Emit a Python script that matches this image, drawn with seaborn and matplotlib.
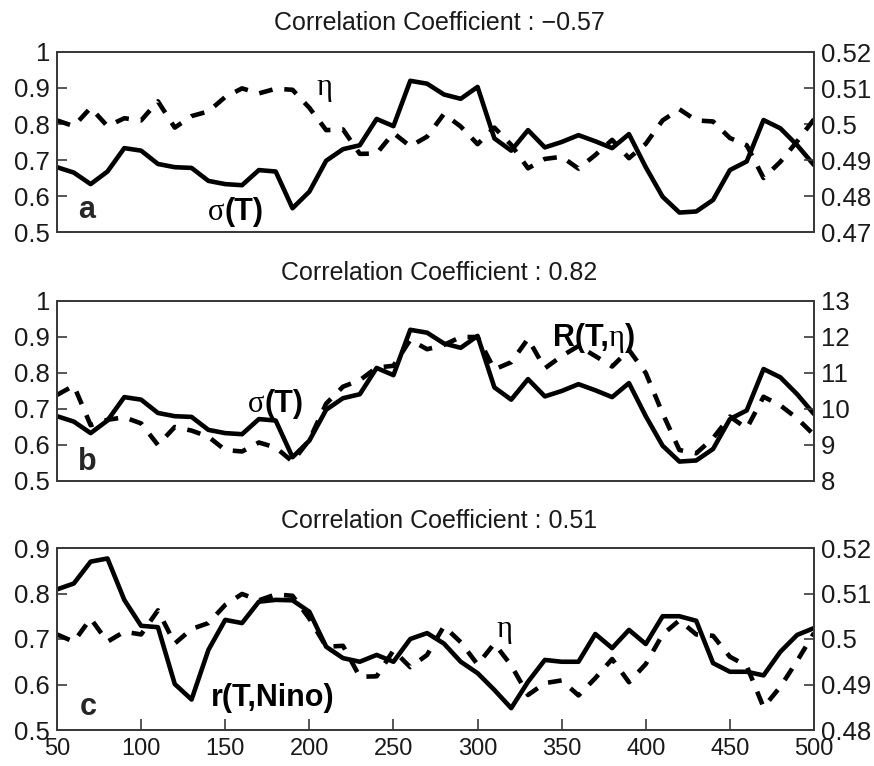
import numpy as np
import pandas as pd
import matplotlib
matplotlib.use("Agg")
import matplotlib.pyplot as plt
import seaborn as sns
from matplotlib.offsetbox import TextArea, HPacker, AnnotationBbox
from matplotlib.ticker import FuncFormatter

# ---------------- data ----------------
years = [50, 60, 70, 80, 90, 100, 110, 120, 130, 140, 150, 160, 170, 180, 190,
         200, 210, 220, 230, 240, 250, 260, 270, 280, 290, 300, 310, 320, 330,
         340, 350, 360, 370, 380, 390, 400, 410, 420, 430, 440, 450, 460, 470,
         480, 490, 500]

sigma_T = [0.680, 0.665, 0.633, 0.668, 0.733, 0.726, 0.689, 0.680, 0.678, 0.642,
           0.633, 0.630, 0.672, 0.668, 0.566, 0.612, 0.698, 0.730, 0.741, 0.814,
           0.794, 0.920, 0.912, 0.882, 0.870, 0.903, 0.760, 0.726, 0.783, 0.735,
           0.750, 0.769, 0.752, 0.733, 0.772, 0.680, 0.598, 0.554, 0.557, 0.589,
           0.672, 0.696, 0.811, 0.788, 0.741, 0.686]

eta = [0.5010, 0.4994, 0.5045, 0.4994, 0.5016, 0.5010, 0.5063, 0.4990, 0.5022, 0.5035,
       0.5075, 0.5099, 0.5085, 0.5098, 0.5095, 0.5045, 0.4983, 0.4985, 0.4917, 0.4918,
       0.4975, 0.4938, 0.4965, 0.5028, 0.4993, 0.4944, 0.4990, 0.4942, 0.4877, 0.4903,
       0.4909, 0.4876, 0.4914, 0.4956, 0.4905, 0.4945, 0.5010, 0.5041, 0.5010, 0.5007,
       0.4961, 0.4941, 0.4850, 0.4895, 0.4952, 0.5013]

R_T_eta = [10.39, 10.65, 9.55, 9.70, 9.77, 9.60, 9.00, 9.50, 9.40, 9.23,
           8.86, 8.82, 9.07, 8.93, 8.54, 9.14, 10.15, 10.62, 10.80, 11.15,
           11.20, 11.92, 11.66, 11.78, 12.00, 12.00, 11.10, 11.30, 11.95, 11.13,
           11.47, 11.75, 11.47, 11.18, 11.64, 11.00, 9.88, 8.86, 8.77, 9.19,
           9.79, 9.46, 10.34, 10.10, 9.74, 9.28]

r_T_nino = [0.809, 0.822, 0.870, 0.877, 0.786, 0.729, 0.726, 0.601, 0.567, 0.676,
            0.742, 0.735, 0.782, 0.786, 0.785, 0.760, 0.683, 0.658, 0.650, 0.665,
            0.650, 0.700, 0.713, 0.690, 0.650, 0.625, 0.588, 0.548, 0.606, 0.654,
            0.650, 0.650, 0.711, 0.680, 0.720, 0.689, 0.750, 0.750, 0.740, 0.647,
            0.628, 0.628, 0.620, 0.672, 0.709, 0.724]

titles = ["Correlation Coefficient : \u22120.57",
          "Correlation Coefficient : 0.82",
          "Correlation Coefficient : 0.51"]
panel_letters = ["a", "b", "c"]

x_ticks = [50, 100, 150, 200, 250, 300, 350, 400, 450, 500]
left_ticks_ab = [0.5, 0.6, 0.7, 0.8, 0.9, 1.0]
left_ticks_c = [0.5, 0.6, 0.7, 0.8, 0.9]
right_ticks_a = [0.47, 0.48, 0.49, 0.50, 0.51, 0.52]
right_ticks_b = [8, 9, 10, 11, 12, 13]
right_ticks_c = [0.48, 0.49, 0.50, 0.51, 0.52]

df = pd.DataFrame({"year": years, "sigma": sigma_T, "eta": eta,
                   "R": R_T_eta, "r": r_T_nino})

# ---------------- style ----------------
sns.set_style("white")
plt.rcParams["font.family"] = ["Liberation Sans", "DejaVu Sans"]

W, H = 874, 766
fig = plt.figure(figsize=(W / 100, H / 100), dpi=100)

def fx(px):
    return px / W

def fy(py):
    return 1 - py / H

left_px, right_px = 57, 814
panels_px = [(52, 232), (301, 481), (548, 730)]

LW = 3.3
DASH = (3.0, 2.6)
EDGE = "#3a3a3a"
TICK_FS = 18.5
XTICK_FS = 17
LABEL_FS = 22

fmt = FuncFormatter(lambda v, p: ("%g" % round(v, 4)))

axes = []
for (top, bot) in panels_px:
    ax = fig.add_axes([fx(left_px), fy(bot), fx(right_px - left_px), (bot - top) / H])
    axes.append(ax)

def style_axes(ax, ax2, lticks, rticks, show_x):
    for a in (ax, ax2):
        for s in a.spines.values():
            s.set_color(EDGE)
            s.set_linewidth(1.3)
    ax.set_xlim(50, 500)
    ax.set_yticks(lticks)
    ax.set_ylim(lticks[0], lticks[-1])
    ax2.set_yticks(rticks)
    ax2.set_ylim(rticks[0], rticks[-1])
    ax.yaxis.set_major_formatter(fmt)
    ax2.yaxis.set_major_formatter(fmt)
    ax.tick_params(axis="y", direction="in", length=7, width=1.2, color=EDGE,
                   labelsize=TICK_FS, pad=5, left=True, right=False,
                   labelcolor="#1a1a1a")
    ax2.tick_params(axis="y", direction="in", length=7, width=1.2, color=EDGE,
                    labelsize=TICK_FS, pad=5, right=True, left=False,
                    labelcolor="#1a1a1a")
    if show_x:
        ax.set_xticks(x_ticks)
        ax.tick_params(axis="x", direction="in", length=8, width=1.2, color=EDGE,
                       labelsize=XTICK_FS, pad=6, bottom=True,
                       labelcolor="#1a1a1a")
    else:
        ax.set_xticks([])
    ax.set_xlabel("")
    ax.set_ylabel("")
    ax2.set_xlabel("")
    ax2.set_ylabel("")

def mixed_label(ax, parts, xy):
    children = []
    for txt, props in parts:
        children.append(TextArea(txt, textprops=props))
    box = HPacker(children=children, pad=0, sep=0, align="baseline")
    ab = AnnotationBbox(box, xy, xycoords="data", frameon=False,
                        box_alignment=(0.5, 0.5), pad=0)
    ab.set_zorder(5)
    ax.add_artist(ab)

bold = dict(fontsize=LABEL_FS, fontweight="bold", color="black",
            family=["Liberation Sans", "DejaVu Sans"])
greek = dict(fontsize=LABEL_FS, color="black",
             family=["Liberation Serif", "DejaVu Serif"])

# ---------------- panel a ----------------
ax = axes[0]
sns.lineplot(data=df, x="year", y="sigma", ax=ax, color="black", lw=LW)
ax2 = ax.twinx()
sns.lineplot(data=df, x="year", y="eta", ax=ax2, color="black", lw=LW)
ax2.lines[-1].set_dashes(DASH)
style_axes(ax, ax2, left_ticks_ab, right_ticks_a, False)
mixed_label(ax, [("\u03c3", greek), ("(T)", bold)], (156, 0.556))
ax.text(209, 0.90, "\u03b7", ha="center", va="center", **greek)

# ---------------- panel b ----------------
ax = axes[1]
sns.lineplot(data=df, x="year", y="sigma", ax=ax, color="black", lw=LW)
ax2 = ax.twinx()
sns.lineplot(data=df, x="year", y="R", ax=ax2, color="black", lw=LW)
ax2.lines[-1].set_dashes(DASH)
style_axes(ax, ax2, left_ticks_ab, right_ticks_b, False)
mixed_label(ax, [("\u03c3", greek), ("(T)", bold)], (180, 0.714))
mixed_label(ax, [("R(T,", bold), ("\u03b7", greek), (")", bold)], (369, 0.897))

# ---------------- panel c ----------------
ax = axes[2]
sns.lineplot(data=df, x="year", y="r", ax=ax, color="black", lw=LW)
ax2 = ax.twinx()
sns.lineplot(data=df, x="year", y="eta", ax=ax2, color="black", lw=LW)
ax2.lines[-1].set_dashes(DASH)
style_axes(ax, ax2, left_ticks_c, right_ticks_c, True)
ax.text(178, 0.570, "r(T,Nino)", ha="center", va="center", **bold)
ax.text(316, 0.720, "\u03b7", ha="center", va="center", **greek)

# panel letters and titles
letter_pos = [(78, 218), (78, 470), (80, 715)]
for a, letter, (lx, ly) in zip(axes, panel_letters, letter_pos):
    fig.text(fx(lx), fy(ly), letter, ha="left", va="baseline",
             fontsize=LABEL_FS, fontweight="bold")

title_base = [30, 280, 528]
for t, ty in zip(titles, title_base):
    fig.text(fx(439), fy(ty), t, ha="center", va="baseline",
             fontsize=18, color="#1a1a1a")

fig.savefig("out.png", dpi=100)
